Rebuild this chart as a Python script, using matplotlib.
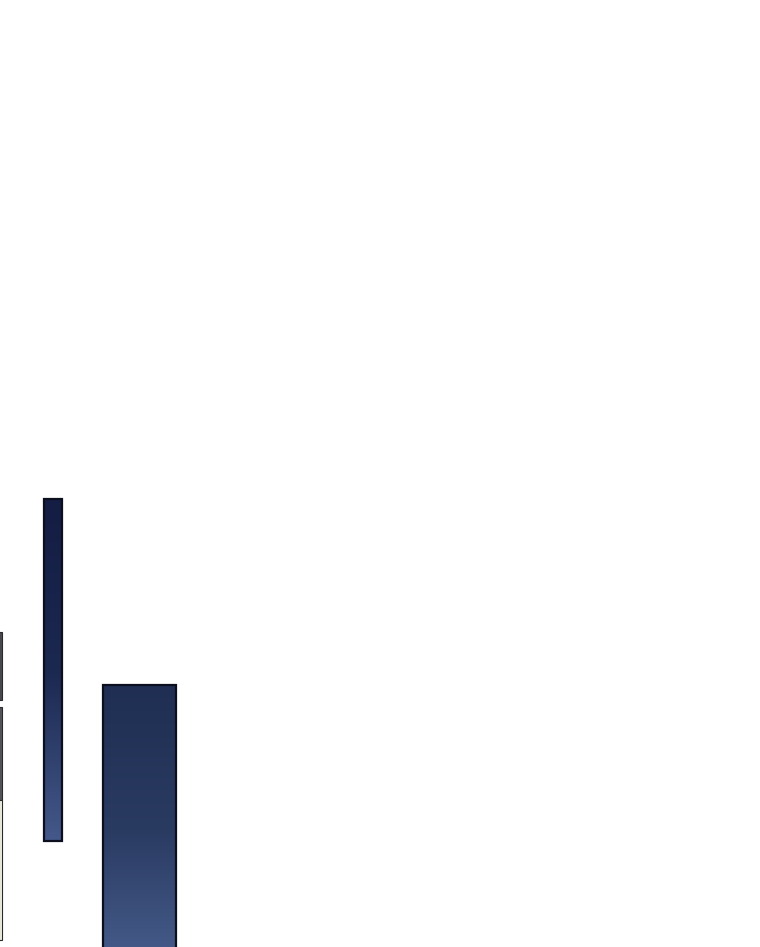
import numpy as np
import matplotlib.pyplot as plt
from matplotlib.colors import LinearSegmentedColormap

# floating ranges (value units, 0 = bottom edge)
range_low = [10.6, -3.0]
range_high = [44.8, 26.2]

# cut-off stacked column on the left edge
edge_low = [24.7, 14.7, 0.7]
edge_high = [31.5, 24.0, 14.7]
edge_colors = ['#4a4a52', '#55565c', '#f3f3e2']

fig = plt.figure(figsize=(7.6, 9.47), dpi=100)
ax = fig.add_axes([0, 0, 1, 1])
ax.set_xlim(0, 76)
ax.set_ylim(0, 94.7)
ax.axis('off')

bar_x = [5.3, 13.95]
bar_w = [1.8, 7.3]
grad = [LinearSegmentedColormap.from_list('g1', ['#44598a', '#1b2850', '#141d44']),
        LinearSegmentedColormap.from_list('g2', ['#4a6090', '#2a3b62', '#1f2e52'])]

for ii in range(len(range_low)):
	bars = ax.bar(bar_x[ii], range_high[ii] - range_low[ii], bottom=range_low[ii],
	              width=bar_w[ii], color='none', edgecolor='#0b0f1e', linewidth=1.6, zorder=3)
	x0 = bar_x[ii] - bar_w[ii] / 2
	img = ax.imshow(np.linspace(0, 1, 256).reshape(-1, 1), cmap=grad[ii], aspect='auto',
	                origin='lower', extent=[x0, x0 + bar_w[ii], range_low[ii], range_high[ii]], zorder=2)
	img.set_clip_path(bars.patches[0])

ax.bar(np.zeros(len(edge_low)), np.array(edge_high) - np.array(edge_low), bottom=edge_low,
       width=0.3, color=edge_colors, edgecolor='#2a2a2a', linewidth=0.8, zorder=3)

ax.set_xlim(0, 76)
ax.set_ylim(0, 94.7)

plt.savefig('out.png', dpi=100, facecolor='white')
